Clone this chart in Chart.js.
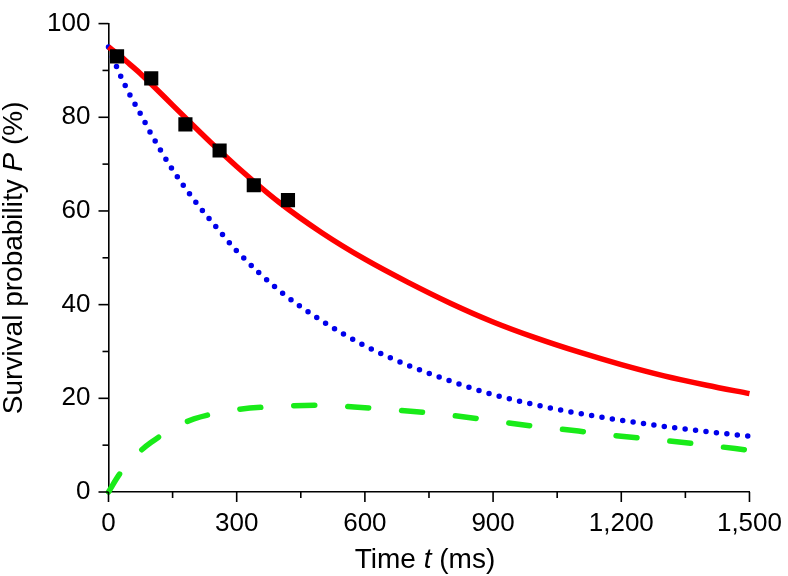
<!DOCTYPE html>
<html>
<head>
<meta charset="utf-8">
<script src="https://cdn.jsdelivr.net/npm/chart.js@4.4.0/dist/chart.umd.min.js"></script>
<style>
  html, body { margin: 0; padding: 0; background: #fff; }
  #wrap { width: 788px; height: 576px; }
</style>
</head>
<body>
<div id="wrap"><canvas id="survivalChart"></canvas></div>
<script>
// values (time in ms, probability in %)
const times = [0, 25, 50, 75, 100, 150, 200, 250, 300, 400, 500, 600, 700, 800, 900, 1000, 1100, 1200, 1300, 1400, 1500];
const totalFit = [95, 93.3, 91.3, 89.3, 87.1, 82.6, 78.1, 73.7, 69.5, 61.8, 55.3, 49.7, 44.8, 40.3, 36.3, 32.9, 29.9, 27.2, 24.8, 22.8, 21.0];
const blueFit = [95, 89.5, 84.8, 80.7, 76.4, 68.8, 62.4, 56.8, 51.5, 43.0, 36.5, 31.2, 27.1, 23.7, 20.8, 18.6, 16.8, 15.3, 14.0, 12.9, 11.9];
const greenFit = [0, 3.7, 6.5, 8.8, 10.6, 13.6, 15.6, 16.8, 17.6, 18.3, 18.5, 18.0, 17.3, 16.4, 15.2, 14.0, 13.0, 11.9, 11.0, 10.0, 8.9];
const measuredT = [20, 100, 180, 260, 340, 420];
const measuredP = [93, 88.3, 78.5, 72.9, 65.5, 62.3];
const xTicks = [0, 300, 600, 900, 1200, 1500];
const yTicks = [0, 20, 40, 60, 80, 100];

const FONT = "'Liberation Sans', Arial, Helvetica, sans-serif";

function toPoints(xs, ys) {
    return xs.map((x, i) => ({ x: x, y: ys[i] }));
}

// draws pieces of text (some italic) one after another, centred on cx
function drawRich(ctx, parts, cx, cy, size) {
    let total = 0;
    parts.forEach(p => {
        ctx.font = (p[1] ? "italic " : "") + size + "px " + FONT;
        total += ctx.measureText(p[0]).width;
    });
    let x = cx - total / 2;
    parts.forEach(p => {
        ctx.font = (p[1] ? "italic " : "") + size + "px " + FONT;
        ctx.fillText(p[0], x, cy);
        x += ctx.measureText(p[0]).width;
    });
}

const axisDecor = {
    id: "axisDecor",
    afterDraw(chart) {
        const ctx = chart.ctx;
        const xs = chart.scales.x, ys = chart.scales.y;
        const area = chart.chartArea;
        ctx.save();
        ctx.strokeStyle = "#000";
        ctx.lineWidth = 1.6;
        xs.ticks.forEach(t => {
            const px = xs.getPixelForValue(t.value);
            const len = xTicks.includes(t.value) ? 10 : 6;
            ctx.beginPath();
            ctx.moveTo(px, area.bottom);
            ctx.lineTo(px, area.bottom + len);
            ctx.stroke();
        });
        ys.ticks.forEach(t => {
            const py = ys.getPixelForValue(t.value);
            const len = yTicks.includes(t.value) ? 10 : 6;
            ctx.beginPath();
            ctx.moveTo(area.left, py);
            ctx.lineTo(area.left - len, py);
            ctx.stroke();
        });

        ctx.fillStyle = "#000";
        ctx.textBaseline = "alphabetic";
        ctx.textAlign = "left";
        drawRich(ctx, [["Time ", false], ["t", true], [" (ms)", false]],
            (area.left + area.right) / 2 - 4, 568, 28);

        ctx.translate(22, (area.top + area.bottom) / 2);
        ctx.rotate(-Math.PI / 2);
        drawRich(ctx, [["Survival probability ", false], ["P", true], [" (%)", false]], 0, 0, 28);
        ctx.restore();
    }
};

new Chart(document.getElementById("survivalChart"), {
    type: "scatter",
    data: {
        datasets: [
            {
                label: "Measured",
                data: toPoints(measuredT, measuredP),
                pointStyle: "rect",
                pointRadius: 10,
                pointBackgroundColor: "#000",
                pointBorderColor: "#000",
                pointBorderWidth: 0,
                showLine: false,
                order: 0
            },
            {
                label: "Total",
                data: toPoints(times, totalFit),
                showLine: true,
                borderColor: "rgb(255, 0, 0)",
                borderWidth: 5.5,
                pointRadius: 0,
                cubicInterpolationMode: "monotone",
                clip: false,
                order: 1
            },
            {
                label: "Blue",
                data: toPoints(times, blueFit),
                showLine: true,
                borderColor: "rgb(0, 0, 235)",
                borderWidth: 5.5,
                borderDash: [0, 10.5],
                borderCapStyle: "round",
                pointRadius: 0,
                cubicInterpolationMode: "monotone",
                clip: false,
                order: 2
            },
            {
                label: "Green",
                data: toPoints(times, greenFit),
                showLine: true,
                borderColor: "rgb(25, 235, 25)",
                borderWidth: 5.5,
                borderDash: [21, 33],
                borderCapStyle: "round",
                pointRadius: 0,
                cubicInterpolationMode: "monotone",
                clip: false,
                order: 3
            }
        ]
    },
    options: {
        responsive: true,
        maintainAspectRatio: false,
        animation: false,
        layout: { padding: { top: 17, right: 36, left: 0, bottom: 0 } },
        plugins: {
            legend: { display: false },
            tooltip: { enabled: false }
        },
        scales: {
            x: {
                type: "linear",
                min: 0,
                max: 1500,
                afterFit: (s) => { s.height = 84; },
                border: { display: true, color: "#000", width: 1.6 },
                grid: { display: true, drawOnChartArea: false, drawTicks: true, tickLength: 10, color: "rgba(0,0,0,0)" },
                ticks: {
                    stepSize: 150,
                    autoSkip: false,
                    maxRotation: 0,
                    padding: 6,
                    color: "#000",
                    font: { family: FONT, size: 26 },
                    callback: (v) => xTicks.includes(v) ? v.toLocaleString("en-US") : ""
                }
            },
            y: {
                type: "linear",
                min: 0,
                max: 100,
                afterFit: (s) => { s.width = 108.5; },
                border: { display: true, color: "#000", width: 1.6 },
                grid: { display: true, drawOnChartArea: false, drawTicks: true, tickLength: 10, color: "rgba(0,0,0,0)" },
                ticks: {
                    stepSize: 10,
                    autoSkip: false,
                    padding: 8,
                    color: "#000",
                    font: { family: FONT, size: 26 },
                    callback: (v) => yTicks.includes(v) ? String(v) : ""
                }
            }
        }
    },
    plugins: [axisDecor]
});
</script>
</body>
</html>
